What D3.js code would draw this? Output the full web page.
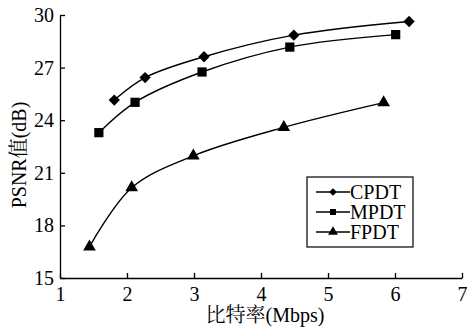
<!DOCTYPE html>
<html><head><meta charset="utf-8">
<script src="https://cdn.jsdelivr.net/npm/d3@7"></script>
<style>body{margin:0;background:#fff}svg{display:block}</style>
</head><body>
<script>
const seriesNames = ["CPDT", "MPDT", "FPDT"];
const cpdtX = [1.81, 2.27, 3.15, 4.49, 6.21];
const cpdtY = [25.15, 26.43, 27.62, 28.85, 29.63];
const mpdtX = [1.58, 2.12, 3.12, 4.43, 6.01];
const mpdtY = [23.29, 25.02, 26.75, 28.17, 28.88];
const fpdtX = [1.44, 2.07, 2.99, 4.34, 5.83];
const fpdtY = [16.78, 20.15, 21.97, 23.59, 25.0];
const xTicks = [1, 2, 3, 4, 5, 6, 7];
const yTicks = [15, 18, 21, 24, 27, 30];
const xTitle = "比特率(Mbps)";
const yTitle = "PSNR值(dB)";

const FONT = "'Liberation Serif', 'Times New Roman', 'Noto Serif CJK SC', 'Noto Sans CJK SC', serif";
const W = 467, H = 329;
const svg = d3.select("body").append("svg").attr("width", W).attr("height", H)
  .attr("font-family", FONT);
const x = d3.scaleLinear().domain([1, 7]).range([60, 462]);
const y = d3.scaleLinear().domain([15, 30]).range([278, 15]);

const g = svg.append("g");
const xa = g.append("g").attr("transform", `translate(0,${y(15)})`)
  .call(d3.axisBottom(x).tickValues(xTicks).tickFormat(d3.format("d")).tickSizeInner(-5).tickSizeOuter(0).tickPadding(9));
const ya = g.append("g").attr("transform", `translate(${x(1)},0)`)
  .call(d3.axisLeft(y).tickValues(yTicks).tickFormat(d3.format("d")).tickSizeInner(-5).tickSizeOuter(0).tickPadding(6));
[xa, ya].forEach(a => {
  a.attr("font-family", FONT).attr("font-size", 20);
  a.select(".domain").attr("stroke", "#000").attr("stroke-width", 1.3);
  a.selectAll(".tick line").attr("stroke", "#000").attr("stroke-width", 1.3);
  a.selectAll("text").attr("fill", "#000");
});

const data = [
  {name: seriesNames[0], xs: cpdtX, ys: cpdtY, type: d3.symbolSquare, size: 64, rot: 45, lsize: 30},
  {name: seriesNames[1], xs: mpdtX, ys: mpdtY, type: d3.symbolSquare, size: 85, rot: 0, lsize: 36},
  {name: seriesNames[2], xs: fpdtX, ys: fpdtY, type: d3.symbolTriangle, size: 70, rot: 0, lsize: 42}
];

const line = d3.line().x(p => x(p[0])).y(p => y(p[1])).curve(d3.curveCatmullRom.alpha(0.5));
data.forEach(s => {
  const pts = s.xs.map((v, i) => [v, s.ys[i]]);
  g.append("path").attr("d", line(pts)).attr("fill", "none").attr("stroke", "#000").attr("stroke-width", 1.4);
  g.selectAll(null).data(pts).enter().append("path")
    .attr("transform", p => `translate(${x(p[0])},${y(p[1])}) rotate(${s.rot})`)
    .attr("d", d3.symbol().type(s.type).size(s.size))
    .attr("fill", "#000");
});

const lg = svg.append("g");
lg.append("rect").attr("x", 307).attr("y", 177).attr("width", 106).attr("height", 70)
  .attr("fill", "#fff").attr("stroke", "#000").attr("stroke-width", 1.2);
data.forEach((s, i) => {
  const yy = 192 + i * 20;
  lg.append("line").attr("x1", 316).attr("x2", 350).attr("y1", yy).attr("y2", yy).attr("stroke", "#000").attr("stroke-width", 1.3);
  lg.append("path").attr("transform", `translate(333,${yy}) rotate(${s.rot})`)
    .attr("d", d3.symbol().type(s.type).size(s.lsize))
    .attr("fill", "#000");
  lg.append("text").attr("x", 350).attr("y", yy + 7).attr("font-size", 20).attr("fill", "#000").text(s.name);
});

svg.append("text").attr("x", 265).attr("y", 322).attr("text-anchor", "middle").attr("font-size", 20).attr("fill", "#000").text(xTitle);
svg.append("text").attr("transform", "translate(26,155) rotate(-90)").attr("text-anchor", "middle").attr("font-size", 20).attr("fill", "#000").text(yTitle);
</script>
</body></html>
